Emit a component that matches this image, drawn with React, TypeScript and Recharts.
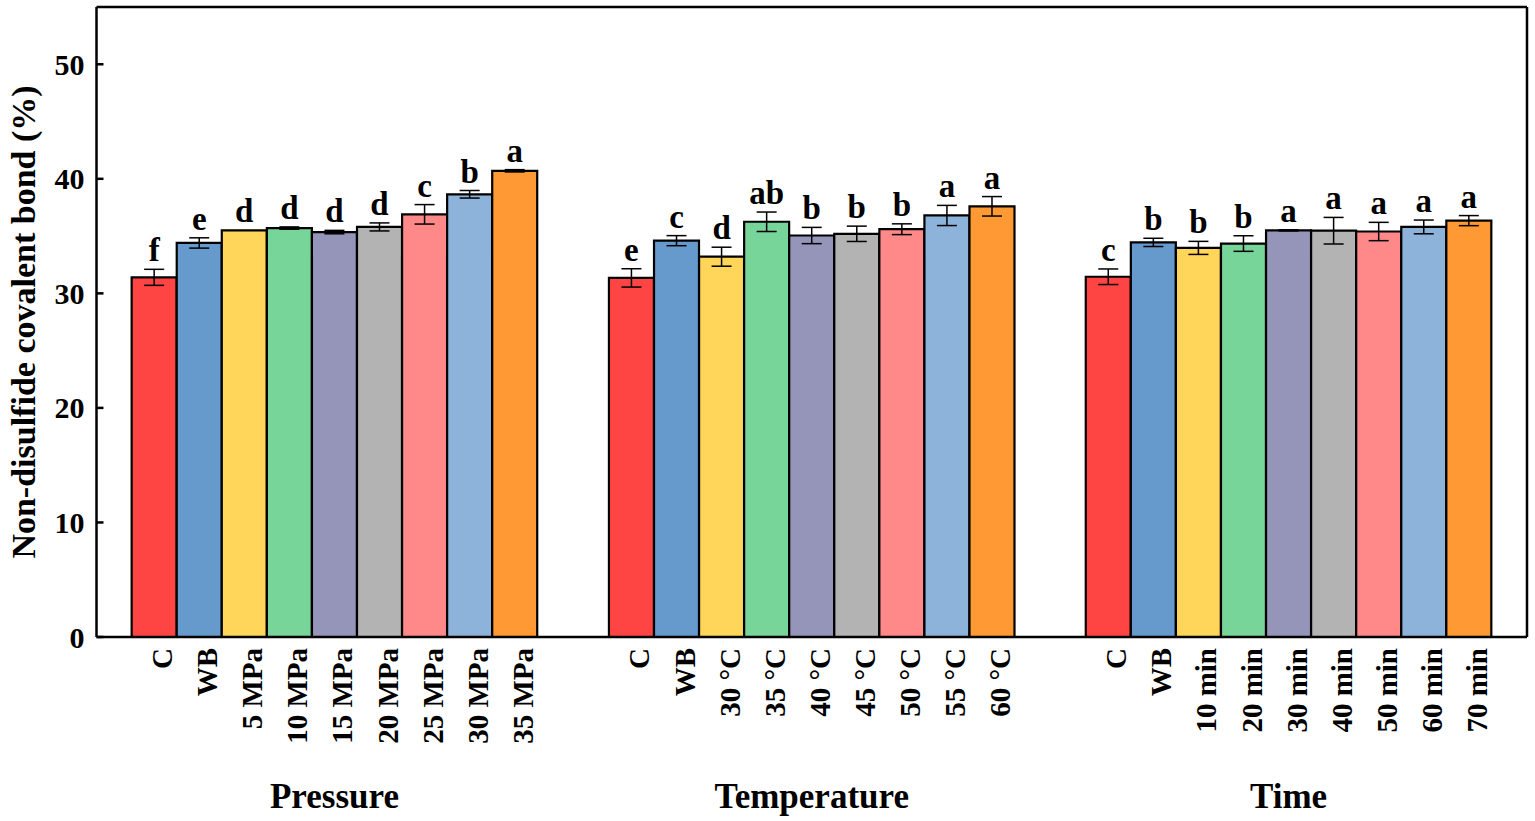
import React from 'react';
import { BarChart, Bar, XAxis, YAxis, ErrorBar, Cell, LabelList, ReferenceLine } from 'recharts';

// ---------- data ----------
const groupNames = ['Pressure', 'Temperature', 'Time'];

const categoriesPressure = ['C', 'WB', '5 MPa', '10 MPa', '15 MPa', '20 MPa', '25 MPa', '30 MPa', '35 MPa'];
const valuesPressure = [31.4, 34.4, 35.5, 35.7, 35.35, 35.8, 36.9, 38.65, 40.7];
const errorsPressure = [0.7, 0.45, 0, 0.1, 0.15, 0.35, 0.85, 0.33, 0.1];
const lettersPressure = ['f', 'e', 'd', 'd', 'd', 'd', 'c', 'b', 'a'];

const categoriesTemperature = ['C', 'WB', '30 °C', '35 °C', '40 °C', '45 °C', '50 °C', '55 °C', '60 °C'];
const valuesTemperature = [31.35, 34.6, 33.2, 36.25, 35.05, 35.2, 35.6, 36.8, 37.6];
const errorsTemperature = [0.8, 0.44, 0.83, 0.85, 0.71, 0.67, 0.47, 0.88, 0.85];
const lettersTemperature = ['e', 'c', 'd', 'ab', 'b', 'b', 'b', 'a', 'a'];

const categoriesTime = ['C', 'WB', '10 min', '20 min', '30 min', '40 min', '50 min', '60 min', '70 min'];
const valuesTime = [31.45, 34.45, 33.97, 34.35, 35.5, 35.47, 35.4, 35.8, 36.35];
const errorsTime = [0.68, 0.36, 0.57, 0.68, 0.05, 1.16, 0.8, 0.6, 0.44];
const lettersTime = ['c', 'b', 'b', 'b', 'a', 'a', 'a', 'a', 'a'];

const yTicks = [0, 10, 20, 30, 40, 50];

// ---------- style / layout ----------
const palette = ['#FF4444', '#6699CC', '#FFD55A', '#77D59A', '#9595BA', '#B3B3B3', '#FF8888', '#8DB3DB', '#FF9933'];
const groupStarts = [0.78, 11.37, 21.95];
const xMax = 31.74;
const yMax = 55;
const FONT = "'Times New Roman', 'Liberation Serif', serif";

const groups = [
  { cats: categoriesPressure, vals: valuesPressure, errs: errorsPressure, lets: lettersPressure },
  { cats: categoriesTemperature, vals: valuesTemperature, errs: errorsTemperature, lets: lettersTemperature },
  { cats: categoriesTime, vals: valuesTime, errs: errorsTime, lets: lettersTime },
];

const table = groups.flatMap((g, gi) =>
  g.cats.map((c, i) => ({
    pos: +(groupStarts[gi] + 0.5 + i).toFixed(3),
    label: c,
    value: g.vals[i],
    err: g.errs[i],
    letter: g.lets[i],
    color: palette[i],
    group: gi,
    idx: i,
  }))
);

const rowByPos = new Map(table.map((r) => [r.pos.toFixed(3), r]));

const XTick = (props: any) => {
  const { x, y, payload } = props;
  const row = rowByPos.get(Number(payload.value).toFixed(3));
  if (!row) return null;
  return (
    <g>
      <text
        x={x}
        y={y}
        transform={`rotate(-90, ${x}, ${y})`}
        textAnchor="end"
        dy={18}
        fontFamily={FONT}
        fontWeight="bold"
        fontSize={29}
        fill="#000"
      >
        {row.label}
      </text>
      {row.idx === 4 ? (
        <text
          x={x}
          y={808}
          textAnchor="middle"
          fontFamily={FONT}
          fontWeight="bold"
          fontSize={35}
          fill="#000"
        >
          {groupNames[row.group]}
        </text>
      ) : null}
    </g>
  );
};

const YTick = (props: any) => {
  const { x, y, payload } = props;
  const axisX = x + 12;
  return (
    <g>
      <line x1={axisX} x2={axisX + 7} y1={y} y2={y} stroke="#000" strokeWidth={2.5} />
      <text x={x} y={y} dy="0.35em" textAnchor="end" fontFamily={FONT} fontWeight="bold" fontSize={30} fill="#000">
        {payload.value}
      </text>
    </g>
  );
};

const renderLetter = (props: any) => {
  const { x, y, width, height, index } = props;
  const row = table[index];
  if (!row) return null;
  const pxPerUnit = Number(height) / row.value;
  const top = Number(y) - row.err * pxPerUnit;
  return (
    <text
      x={Number(x) + Number(width) / 2}
      y={top - 8}
      textAnchor="middle"
      fontFamily={FONT}
      fontWeight="bold"
      fontSize={33}
      fill="#000"
    >
      {row.letter}
    </text>
  );
};

const YLabel = (props: any) => {
  const vb = props.viewBox || { x: 0, y: 7, width: 96.5, height: 630 };
  const cx = 35;
  const cy = vb.y + vb.height / 2;
  return (
    <text
      x={cx}
      y={cy}
      transform={`rotate(-90, ${cx}, ${cy})`}
      textAnchor="middle"
      fontFamily={FONT}
      fontWeight="bold"
      fontSize={34}
      fill="#000"
    >
      Non-disulfide covalent bond (%)
    </text>
  );
};

export default function App() {
  return (
    <div style={{ position: 'absolute', left: 0, top: 0, background: '#fff' }}>
      <BarChart
        width={1535}
        height={821}
        data={table}
        margin={{ top: 7, right: 8, bottom: 0, left: 0 }}
      >
        <XAxis
          dataKey="pos"
          type="number"
          domain={[0, xMax]}
          ticks={table.map((r) => r.pos)}
          interval={0}
          tickLine={false}
          tickSize={0}
          tickMargin={11}
          axisLine={{ stroke: '#000', strokeWidth: 2.5 }}
          tick={<XTick />}
          height={184}
          allowDataOverflow
        />
        <YAxis
          type="number"
          domain={[0, yMax]}
          ticks={yTicks}
          interval={0}
          tickLine={false}
          tickSize={0}
          tickMargin={12}
          axisLine={{ stroke: '#000', strokeWidth: 2.5 }}
          tick={<YTick />}
          width={96.5}
          label={<YLabel />}
          allowDataOverflow
        />
        <ReferenceLine y={yMax} stroke="#000" strokeWidth={2.5} ifOverflow="visible" />
        <ReferenceLine x={xMax} stroke="#000" strokeWidth={2.5} ifOverflow="visible" />
        <Bar dataKey="value" barSize={45} stroke="#000" strokeWidth={2.2} isAnimationActive={false}>
          {table.map((r, i) => (
            <Cell key={i} fill={r.color} />
          ))}
          <ErrorBar dataKey="err" width={10} stroke="#000" strokeWidth={1.5} direction="y" />
          <LabelList dataKey="letter" content={renderLetter} />
        </Bar>
      </BarChart>
    </div>
  );
}
